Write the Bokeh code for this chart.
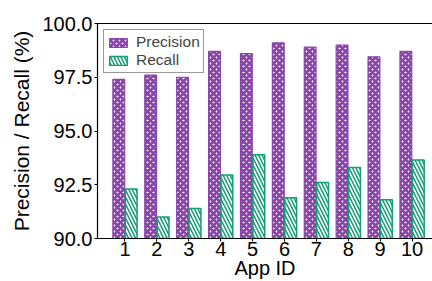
from bokeh.plotting import figure
from bokeh.models import (Range1d, FixedTicker, LinearAxis, Legend, LegendItem,
                          NumeralTickFormatter, ColumnDataSource)
from bokeh.transform import dodge
from bokeh.embed import file_html
from bokeh.resources import INLINE

# ---- data ----
app_ids = [1, 2, 3, 4, 5, 6, 7, 8, 9, 10]
precision = [97.4, 97.6, 97.5, 98.7, 98.6, 99.1, 98.9, 99.0, 98.45, 98.7]
recall = [92.3, 91.0, 91.4, 92.95, 93.9, 91.9, 92.6, 93.3, 91.8, 93.65]
y_ticks = [90.0, 92.5, 95.0, 97.5, 100.0]

PURPLE = "#8A45A8"
GREEN = "#139E74"
FONT = "Liberation Sans"

src = ColumnDataSource(dict(app=app_ids, precision=precision, recall=recall))

p = figure(width=432, height=281, output_backend="svg", toolbar_location=None,
           x_range=Range1d(0.138, 10.64), y_range=Range1d(90, 100),
           min_border_left=97, min_border_top=23, min_border_right=0, min_border_bottom=43)
p.outline_line_color = None
p.grid.visible = False
p.background_fill_color = "white"
p.border_fill_color = "white"

r1 = p.vbar(x=dodge("app", -0.195), top="precision", bottom=90, width=0.37, source=src,
            fill_color="white", hatch_pattern="diagonal_cross", hatch_color=PURPLE,
            hatch_scale=6, hatch_weight=2.8, line_color=PURPLE, line_width=1.2)
r2 = p.vbar(x=dodge("app", 0.195), top="recall", bottom=90, width=0.37, source=src,
            fill_color="white", hatch_pattern="left_diagonal_line", hatch_color=GREEN,
            hatch_scale=7, hatch_weight=1.5, line_color=GREEN, line_width=1.5)

# axes
for ax in (p.xaxis[0], p.yaxis[0]):
    ax.axis_line_color = "black"
    ax.axis_line_width = 1.2
    ax.major_tick_in = 0
    ax.major_tick_out = 3
    ax.minor_tick_in = 0
    ax.minor_tick_out = 0
    ax.major_tick_line_color = "black"
    ax.major_label_text_font = FONT
    ax.major_label_text_font_size = "20px"
    ax.major_label_text_color = "black"
    ax.axis_label_text_font = FONT
    ax.axis_label_text_font_style = "normal"
    ax.axis_label_text_color = "black"

p.xaxis.ticker = FixedTicker(ticks=app_ids)
p.xaxis.major_label_standoff = 0
p.xaxis.axis_label = "App ID"
p.xaxis.axis_label_text_font_size = "20px"
p.xaxis.axis_label_standoff = -2

p.yaxis.ticker = FixedTicker(ticks=y_ticks)
p.yaxis.formatter = NumeralTickFormatter(format="0.0")
p.yaxis.major_label_standoff = 2
p.yaxis.axis_label = "Precision / Recall (%)"
p.yaxis.axis_label_text_font_size = "21px"
p.yaxis.axis_label_standoff = 6

# top spine
top = LinearAxis(ticker=FixedTicker(ticks=[]), major_tick_out=0, major_tick_in=0,
                 minor_tick_out=0, minor_tick_in=0, axis_line_color="black",
                 axis_line_width=1.2)
p.add_layout(top, "above")

legend = Legend(items=[LegendItem(label="Precision", renderers=[r1]),
                       LegendItem(label="Recall", renderers=[r2])],
                location="top_left", margin=6, padding=3, spacing=0,
                label_standoff=7, glyph_width=22, glyph_height=11, label_height=18,
                label_text_font=FONT, label_text_font_size="15.5px",
                border_line_color="#333333", border_line_width=1,
                background_fill_color="white", background_fill_alpha=1)
p.add_layout(legend)

open("out.html", "w").write(file_html(p, INLINE))
